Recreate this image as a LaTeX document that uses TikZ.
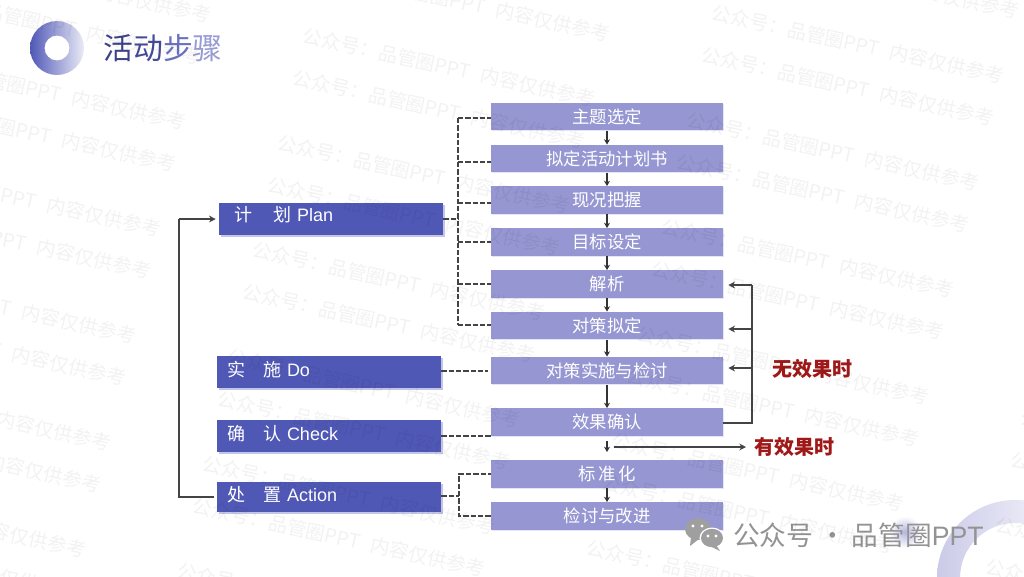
\documentclass[tikz,border=0pt]{standalone}
\usepackage{fontspec}
\setmainfont{Noto Sans CJK SC}
\newfontfamily\latfont{Liberation Sans}
\usetikzlibrary{positioning, calc, arrows.meta, shadows}
\definecolor{phasecolor}{HTML}{5058B6}
\definecolor{stepcolor}{HTML}{9696D2}
\definecolor{linecolor}{HTML}{444444}
\definecolor{redtext}{HTML}{A01818}
\tikzset{
	phasebox/.style={
		shape=rectangle, fill=phasecolor, text=white, font=\fontsize{13.5pt}{16pt}\selectfont,
		minimum width=168pt, minimum height=24pt, inner xsep=7.5pt, inner ysep=0pt,
		text width=153pt, align=left, text depth=4.5pt,
		general shadow={fill=phasecolor!35, shadow xshift=1.5pt, shadow yshift=-1.5pt}
	}
}
\tikzset{
	stepbox/.style={
		shape=rectangle, fill=stepcolor, text=white, font=\fontsize{13pt}{16pt}\selectfont,
		minimum width=174pt, minimum height=20.5pt, inner sep=0pt,
		general shadow={fill=stepcolor!25, shadow xshift=0.8pt, shadow yshift=-0.8pt}
	}
}
\tikzset{
	dashline/.style={draw=linecolor, line width=1.25pt, dash pattern=on 4pt off 1.5pt},
	flowline/.style={draw=linecolor, line width=1pt},
	flowarrow/.style={flowline, -{Stealth[length=5pt,width=5pt]}},
	steparrow/.style={draw=black!80, line width=0.8pt, -{Stealth[length=4pt,width=4.5pt]}},
	redlabel/.style={text=redtext, font=\fontsize{15pt}{18pt}\selectfont\bfseries},
	markbox/.style={text=black, opacity=0.05, font=\fontsize{14.5pt}{16pt}\selectfont, rotate=-12.5, anchor=west, inner sep=0pt}
}

\begin{document}
\begin{tikzpicture}[x=0.75pt,y=-0.75pt]

      \useasboundingbox (0,0) rectangle (1024,576);
      \fill[white] (0,0) rectangle (1024,576);

      % corner decoration
      \shade[left color=stepcolor!50, right color=white, even odd rule] (1015,578) circle[radius=78] circle[radius=55];
      \shade[inner color=stepcolor!70, outer color=white] (905,532) circle[radius=16];

      % title
      \shade[left color=phasecolor, right color=phasecolor!12, even odd rule] (57,48) circle[radius=27] circle[radius=12.5];
      \node[anchor=west, inner sep=0pt, font=\fontsize{22.4pt}{24pt}\selectfont] (title) at (103,48)
        {\textcolor{phasecolor!75!black}{活}\textcolor{phasecolor!85!black}{动}\textcolor{phasecolor!85}{步}\textcolor{phasecolor!60}{骤}};

      % left column
      \node[phasebox, text depth=6.5pt] (plan) at (331,218.5) {\hspace{4pt}计\hspace{1.15em}划 {\latfont Plan}};
      \node[phasebox] (do) at (329,372) {实\hspace{1em}施 {\latfont Do}};
      \node[phasebox] (check) at (329,435.5) {确\hspace{1em}认 {\latfont Check}};
      \node[phasebox, minimum height=22.5pt] (action) at (329,497) {处\hspace{1em}置 {\latfont Action}};

      % right column
      \node[stepbox] (s1) at (607,116.5) {主题选定};
      \node[stepbox] (s2) at (607,158.5) {拟定活动计划书};
      \node[stepbox] (s3) at (607,200) {现况把握};
      \node[stepbox] (s4) at (607,242) {目标设定};
      \node[stepbox] (s5) at (607,284) {解析};
      \node[stepbox] (s6) at (607,325.5) {对策拟定};
      \node[stepbox] (s7) at (607,370.5) {对策实施与检讨};
      \node[stepbox] (s8) at (607,422) {效果确认};
      \node[stepbox] (s9) at (607,474) {标\,准\,化};
      \node[stepbox] (s10) at (607,516) {检讨与改进};

      \foreach \a/\b in {s1/s2,s2/s3,s3/s4,s4/s5,s5/s6,s6/s7,s7/s8,s9/s10}
        \draw[steparrow] (\a) ++(0,14) -- (\b.north);

      % dashed links
      \coordinate (busplan) at (458,219);
      \coordinate (busaction) at (459,496);
      \draw[dashline] (busplan -| plan.east) -- (busplan);
      \foreach \n/\y in {s1/118,s2/162,s3/203,s4/242,s5/284,s6/325}{
        \coordinate (b\n) at (458,\y);
        \draw[dashline] (b\n) -- (b\n -| \n.west);
      }
      \draw[dashline] (bs1) -- (bs6);
      \coordinate (bs9) at (459,474);
      \coordinate (bs10) at (459,516);
      \draw[dashline] (busaction -| action.east) -- (busaction);
      \draw[dashline] (bs10 -| s10.west) -- (bs10) -- (bs9) -- (bs9 -| s9.west);
      \coordinate (doend) at (488,371);
      \draw[dashline] (doend -| do.east) -- (doend);
      \coordinate (checkend) at (491,436);
      \draw[dashline] (checkend -| check.east) -- (checkend);

      % feedback from the result box
      \coordinate (fbtop) at (752,285);
      \coordinate (fbmid) at (752,329);
      \coordinate (fblow) at (752,368);
      \coordinate (fbend) at (752,423);
      \draw[flowline] (s8.east |- fbend) -- (fbend) -- (fbtop);
      \foreach \c/\n in {fbtop/s5,fbmid/s6,fblow/s7}
        \draw[flowarrow, shorten >=3.75pt] (\c) -- (\c -| \n.east);

      % result is good
      \coordinate (oktop) at (607,441);
      \coordinate (okdown) at (607,452);
      \coordinate (okleft) at (614,447);
      \coordinate (okright) at (746,447);
      \draw[steparrow] (oktop) -- (okdown);
      \draw[flowarrow] (okleft) -- (okright);

      % return path to plan
      \coordinate (backdown) at (179,497);
      \coordinate (backup) at (179,219);
      \draw[flowline, shorten <=2.25pt] (action.west) -- (backdown) -- (backup);
      \draw[flowarrow, shorten >=2.25pt] (backup) -- (backup -| plan.west);

      \node[redlabel] (nolabel) at (812,369) {无效果时};
      \node[redlabel] (oklabel) at (794,447) {有效果时};

      % account mark
      \fill[gray!75] (698,529) ellipse[x radius=13, y radius=11];
      \fill[gray!75] (691,537) -- (690,546) -- (699,539) -- cycle;
      \fill[white] (712,538) ellipse[x radius=12.5, y radius=10.5];
      \fill[gray!75] (712,538) ellipse[x radius=11, y radius=9.2];
      \fill[gray!75] (716,545) -- (720,551) -- (710,546) -- cycle;
      \foreach \ex/\ey in {693/526,702/526,708/536,716/536}
        \fill[white] (\ex,\ey) circle[radius=1.6];
      \node[anchor=west, inner sep=0pt, text=gray!85, font=\fontsize{20pt}{22pt}\selectfont] (account) at (733,535)
        {公众号 · 品管圈{\latfont PPT}};

      % watermark
      \foreach \j in {-1,0,1,2}{
        \foreach \k in {-1,...,5}{
          \node[markbox] (marka\j\k) at ({303+409*\j-25*\k},{35-23*\j+107*\k}) {公众号：品管圈PPT\hspace{0.6em}内容仅供参考};
          \node[markbox] (markb\j\k) at ({293+409*\j-25*\k},{77-23*\j+107*\k}) {公众号：品管圈PPT\hspace{0.6em}内容仅供参考};
        }
      }

    \end{tikzpicture}
\end{document}
